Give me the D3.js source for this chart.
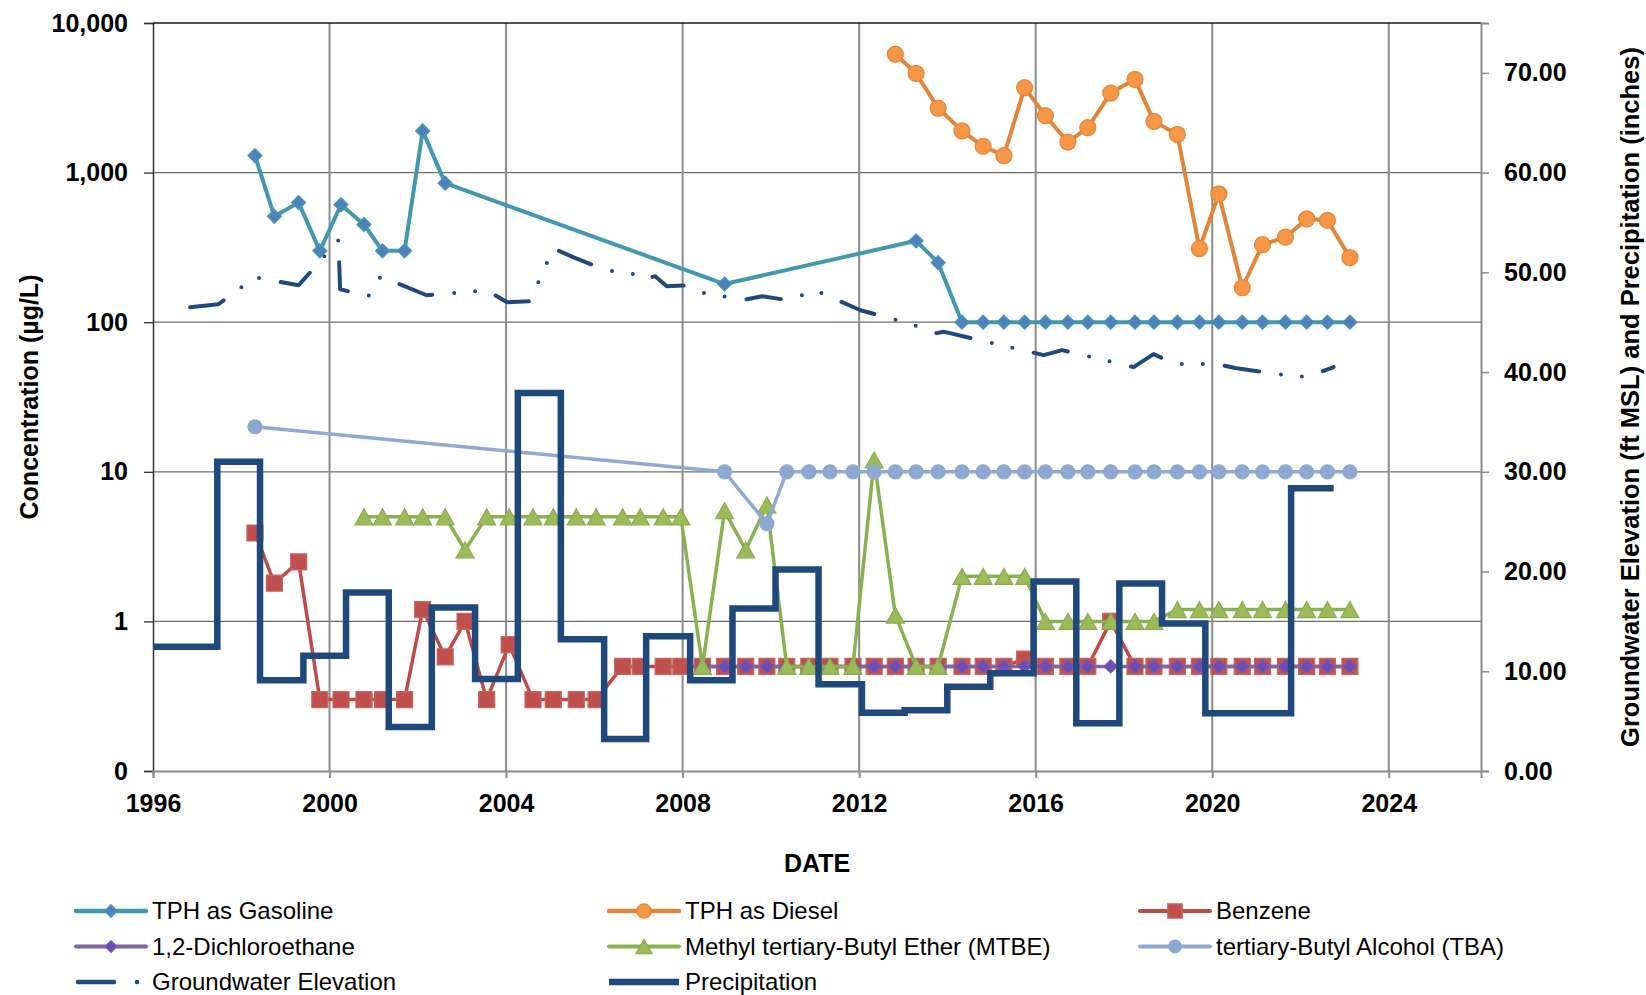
<!DOCTYPE html>
<html>
<head>
<meta charset="utf-8">
<script src="https://cdn.jsdelivr.net/npm/d3@7"></script>
<style>
  body { margin: 0; background: #fff; }
  svg { display: block; font-family: Arial, "Liberation Sans", sans-serif; }
</style>
</head>
<body>
<div id="chart"></div>
<script>
// sampling dates (decimal years) shared by the concentration series
const _ = null;
const sampleYears = [1998.31, 1998.75, 1999.30, 1999.78, 2000.26, 2000.78, 2001.20, 2001.70, 2002.11, 2002.62,
  2003.07, 2003.56, 2004.07, 2004.61, 2005.07, 2005.59, 2006.04, 2006.64, 2007.04, 2007.56, 2007.96,
  2008.45, 2008.95, 2009.43, 2009.91, 2010.36, 2010.86, 2011.34, 2011.86, 2012.34, 2012.82, 2013.29, 2013.79,
  2014.33, 2014.81, 2015.28, 2015.75, 2016.22, 2016.73, 2017.18, 2017.70, 2018.25, 2018.68, 2019.21, 2019.71,
  2020.15, 2020.68, 2021.14, 2021.66, 2022.14, 2022.61, 2023.12];

const tphGasoline = [1300, 510, 630, 300, 610, 450, 300, 300, 1900, 850,
  _, _, _, _, _, _, _, _, _, _, _, _, 180, _, _, _, _, _, _, _, _, 350, 250,
  100, 100, 100, 100, 100, 100, 100, 100, 100, 100, 100, 100, 100, 100, 100, 100, 100, 100, 100];
const tphDiesel = [_, _, _, _, _, _, _, _, _, _, _, _, _, _, _, _, _, _, _, _, _, _, _, _, _, _, _, _, _, _,
  6200, 4600, 2700, 1900, 1500, 1300, 3700, 2400, 1600, 2000, 3400, 4200, 2200, 1800, 310, 720, 170, 330, 370, 490, 480, 270];
const benzene = [3.9, 1.8, 2.5, 0.3, 0.3, 0.3, 0.3, 0.3, 1.2, 0.58, 1.0, 0.3, 0.7, 0.3, 0.3, 0.3, 0.3,
  0.5, 0.5, 0.5, 0.5, 0.5, 0.5, 0.5, 0.5, 0.5, 0.5, 0.5, 0.5, 0.5, 0.5, 0.5, 0.5, 0.5, 0.5, 0.5,
  0.56, 0.5, 0.5, 0.5, 1.0, 0.5, 0.5, 0.5, 0.5, 0.5, 0.5, 0.5, 0.5, 0.5, 0.5, 0.5];
const dichloroethane = [_, _, _, _, _, _, _, _, _, _, _, _, _, _, _, _, _, _, _, _, _,
  0.5, 0.5, 0.5, 0.5, 0.5, 0.5, 0.5, 0.5, 0.5, 0.5, 0.5, 0.5, 0.5, 0.5, 0.5, 0.5,
  0.5, 0.5, 0.5, 0.5, 0.5, 0.5, 0.5, 0.5, 0.5, 0.5, 0.5, 0.5, 0.5, 0.5, 0.5];
const mtbe = [_, _, _, _, _, 5, 5, 5, 5, 5, 3, 5, 5, 5, 5, 5, 5, 5, 5, 5, 5,
  0.5, 5.5, 3, 6, 0.5, 0.5, 0.5, 0.5, 12, 1.1, 0.5, 0.5, 2, 2, 2, 2, 1, 1, 1, 1, 1, 1,
  1.2, 1.2, 1.2, 1.2, 1.2, 1.2, 1.2, 1.2, 1.2];
const tba = [20, _, _, _, _, _, _, _, _, _, _, _, _, _, _, _, _, _, _, _, _, _, 10, _, 4.5,
  10, 10, 10, 10, 10, 10, 10, 10, 10, 10, 10, 10, 10, 10, 10, 10, 10, 10, 10, 10, 10, 10, 10, 10, 10, 10, 10];

// groundwater elevation (ft MSL), right axis
const gwYears = [1996.84, 1997.48, 1998.31, 1999.30, 2000.20, 2000.24, 2000.88, 2001.16, 2002.20, 2003.56,
  2004.02, 2004.54, 2005.07, 2005.53, 2006.28, 2006.93, 2007.04, 2007.38, 2007.64, 2008.10, 2008.55,
  2009.46, 2009.80, 2010.40, 2011.00, 2012.03, 2013.12, 2013.76, 2013.91, 2016.18, 2016.60, 2018.22,
  2018.67, 2019.17, 2020.11, 2020.52, 2021.64, 2022.15, 2022.75];
const gwElev = [46.5, 46.8, 49.5, 48.7, 53.2, 48.3, 47.6, 49.6, 47.7, 48.2,
  47.0, 47.1, 52.4, 51.5, 50.2, 49.8, 49.3, 49.6, 48.6, 48.7, 47.8,
  47.3, 47.6, 47.2, 48.2, 46.2, 44.9, 43.9, 44.05, 41.7, 42.2, 40.5,
  41.8, 40.8, 40.8, 40.4, 39.7, 39.5, 40.5];

// annual precipitation (inches), right axis, drawn as steps
const precipYears = [1996.0, 1997.457, 1998.425, 1999.407, 2000.374, 2001.342, 2002.317, 2003.298, 2004.266,
  2005.241, 2006.222, 2007.174, 2008.171, 2009.130, 2010.105, 2011.080, 2012.063, 2013.029, 2013.997,
  2014.971, 2015.952, 2016.920, 2017.895, 2018.863, 2019.844, 2020.81, 2021.787, 2022.752];
const precipInches = [12.45, 31.0, 9.1, 11.56, 17.9, 4.41, 16.4, 9.22, 37.9,
  13.2, 3.2, 13.5, 9.1, 16.3, 20.2, 8.7, 5.85, 6.1, 8.45,
  9.8, 19.0, 4.8, 18.8, 14.8, 5.8, 5.8, 28.35, 28.35];

const xTicks = [1996, 2000, 2004, 2008, 2012, 2016, 2020, 2024];
const leftTicks = [0.1, 1, 10, 100, 1000, 10000];
const leftTickLabels = ["0", "1", "10", "100", "1,000", "10,000"];
const rightTicks = [0, 10, 20, 30, 40, 50, 60, 70];

const W = 1646, H = 995;
const L = 153, R = 1481, T = 23, B = 771;

const x = d3.scaleLinear().domain([1996, 2026.09]).range([L, R]);
const y = d3.scaleLog().domain([0.1, 10000]).range([B, T]);
const y2 = d3.scaleLinear().domain([0, 75]).range([B, T]);

const svg = d3.select("#chart").append("svg")
  .attr("width", W).attr("height", H);

svg.append("defs").append("clipPath").attr("id", "plot")
  .append("rect").attr("x", L).attr("y", T).attr("width", R - L).attr("height", B - T);

// gridlines
svg.append("g").selectAll("line")
  .data(leftTicks.slice(1, -1))
  .enter().append("line")
  .attr("x1", L).attr("x2", R)
  .attr("y1", d => y(d)).attr("y2", d => y(d))
  .attr("stroke", "#6e6e6e").attr("stroke-width", 1.3);
svg.append("g").selectAll("line")
  .data(xTicks.slice(1))
  .enter().append("line")
  .attr("x1", d => x(d)).attr("x2", d => x(d))
  .attr("y1", T).attr("y2", B)
  .attr("stroke", "#8c8c8c").attr("stroke-width", 2);

// plot border
svg.append("line").attr("x1", L).attr("x2", R).attr("y1", T).attr("y2", T)
  .attr("stroke", "#1a1a1a").attr("stroke-width", 1.5);

// axes
const axL = svg.append("g").attr("transform", `translate(${L},0)`)
  .call(d3.axisLeft(y).tickValues(leftTicks).tickFormat((d, i) => leftTickLabels[i]).tickSize(9).tickPadding(16));
const axR = svg.append("g").attr("transform", `translate(${R},0)`)
  .call(d3.axisRight(y2).tickValues(rightTicks).tickFormat(d3.format(".2f")).tickSize(8).tickPadding(15));
const axB = svg.append("g").attr("transform", `translate(0,${B})`)
  .call(d3.axisBottom(x).tickValues(xTicks).tickFormat(d3.format("d")).tickSize(7).tickPadding(16));

[axL, axR, axB].forEach(a => {
  a.selectAll("text").attr("font-size", 25).attr("font-weight", "bold").attr("fill", "#000")
    .attr("font-family", "Arial, 'Liberation Sans', sans-serif");
});
axL.select(".domain").attr("stroke", "#303030").attr("stroke-width", 1.5);
axL.selectAll(".tick line").attr("stroke", "#303030").attr("stroke-width", 1.3);
axR.select(".domain").attr("stroke", "#8c8c8c").attr("stroke-width", 2);
axR.selectAll(".tick line").attr("stroke", "#8c8c8c").attr("stroke-width", 1.5);
axB.select(".domain").attr("stroke", "#8c8c8c").attr("stroke-width", 2);
axB.selectAll(".tick line").attr("stroke", "#8c8c8c").attr("stroke-width", 2);

// axis titles
svg.append("text").attr("transform", `translate(29,${(T + B) / 2}) rotate(-90)`)
  .attr("text-anchor", "middle").attr("dy", "0.35em")
  .attr("font-size", 25).attr("font-weight", "bold").text("Concentration (µg/L)");
svg.append("text").attr("transform", `translate(1630,${(T + B) / 2}) rotate(-90)`)
  .attr("text-anchor", "middle").attr("dy", "0.35em")
  .attr("font-size", 25.5).attr("font-weight", "bold")
  .text("Groundwater Elevation (ft MSL) and Precipitation (inches)");
svg.append("text").attr("x", (L + R) / 2).attr("y", 863).attr("dy", "0.35em")
  .attr("text-anchor", "middle").attr("font-size", 25).attr("font-weight", "bold").text("DATE");

// marker shapes
const shapes = {
  diamond: r => `M0,${-r}L${r},0L0,${r}L${-r},0Z`,
  square: r => `M${-r},${-r}H${r}V${r}H${-r}Z`,
  triangle: r => `M0,${-r}L${r * 1.12},${r}L${-r * 1.12},${r}Z`,
  circle: r => `M${r},0A${r},${r} 0 1,1 ${-r},0A${r},${r} 0 1,1 ${r},0Z`
};

const series = [
  { name: "TPH as Gasoline", values: tphGasoline, line: "#4198AF", fill: "#4F81BD", stroke: "#4198AF", shape: "diamond", r: 7, w: 4 },
  { name: "TPH as Diesel", values: tphDiesel, line: "#E2843A", fill: "#F79646", stroke: "#E38634", shape: "circle", r: 8, w: 4 },
  { name: "Benzene", values: benzene, line: "#BE4B48", fill: "#C0504D", stroke: "#C96461", shape: "square", r: 8, w: 3.5 },
  { name: "1,2-Dichloroethane", values: dichloroethane, line: "#7F64A2", fill: "#6B4CB8", stroke: "#7656B0", shape: "diamond", r: 6.5, w: 3.5 },
  { name: "Methyl tertiary-Butyl Ether (MTBE)", values: mtbe, line: "#8AB150", fill: "#9BBB59", stroke: "#8AAD4E", shape: "triangle", r: 8, w: 3.5 },
  { name: "tertiary-Butyl Alcohol (TBA)", values: tba, line: "#8EAAD2", fill: "#8EA9D1", stroke: "#8EA9D1", shape: "circle", r: 7, w: 3.5 }
];

const plot = svg.append("g").attr("clip-path", "url(#plot)");
const conc = d3.line().x(d => x(d[0])).y(d => y(d[1]));

series.forEach(s => {
  const pts = sampleYears.map((yr, i) => [yr, s.values[i]]).filter(d => d[1] !== null);
  const g = plot.append("g");
  g.append("path").datum(pts).attr("d", conc)
    .attr("fill", "none").attr("stroke", s.line).attr("stroke-width", s.w).attr("stroke-linejoin", "round");
  g.selectAll("path.m").data(pts).enter().append("path").attr("class", "m")
    .attr("d", shapes[s.shape](s.r))
    .attr("transform", d => `translate(${x(d[0])},${y(d[1])})`)
    .attr("fill", s.fill).attr("stroke", s.stroke).attr("stroke-width", 1.2);
});

// groundwater elevation
const gwPts = gwYears.map((yr, i) => [yr, gwElev[i]]);
plot.append("path").datum(gwPts)
  .attr("d", d3.line().x(d => x(d[0])).y(d => y2(d[1])))
  .attr("fill", "none").attr("stroke", "#1F497D").attr("stroke-width", 4)
  .attr("stroke-linecap", "round").attr("stroke-linejoin", "round")
  .attr("stroke-dasharray", "35,22,0,21,0,22");

// precipitation
const prPts = precipYears.map((yr, i) => [yr, precipInches[i]]);
plot.append("path").datum(prPts)
  .attr("d", d3.line().curve(d3.curveStepAfter).x(d => x(d[0])).y(d => y2(d[1])))
  .attr("fill", "none").attr("stroke", "#1F497D").attr("stroke-width", 6.5)
  .attr("stroke-linejoin", "miter");

// legend
const colX = [76, 609, 1140];
const rowY = [911, 946.5, 982];
const legendItems = series.map((s, i) => ({ s, col: i % 3, row: Math.floor(i / 3) }));
const lg = svg.append("g");
legendItems.forEach(({ s, col, row }) => {
  const x0 = colX[col], yy = rowY[row];
  lg.append("line").attr("x1", x0).attr("x2", x0 + 70).attr("y1", yy).attr("y2", yy)
    .attr("stroke", s.line).attr("stroke-width", s.w + 0.5).attr("stroke-linecap", "round");
  lg.append("path").attr("d", shapes[s.shape](s.r * 0.9))
    .attr("transform", `translate(${x0 + 35},${yy})`)
    .attr("fill", s.fill).attr("stroke", s.stroke).attr("stroke-width", 1.2);
  lg.append("text").attr("x", x0 + 76).attr("y", yy).attr("dy", "0.35em")
    .attr("font-size", 24).text(s.name);
});
// groundwater legend
lg.append("line").attr("x1", colX[0] + 2).attr("x2", colX[0] + 70).attr("y1", rowY[2]).attr("y2", rowY[2])
  .attr("stroke", "#1F497D").attr("stroke-width", 4.5).attr("stroke-linecap", "round")
  .attr("stroke-dasharray", "36,23,0,100");
lg.append("text").attr("x", colX[0] + 76).attr("y", rowY[2]).attr("dy", "0.35em")
  .attr("font-size", 24).text("Groundwater Elevation");
// precipitation legend
lg.append("line").attr("x1", colX[1]).attr("x2", colX[1] + 70).attr("y1", rowY[2]).attr("y2", rowY[2])
  .attr("stroke", "#1F497D").attr("stroke-width", 6.5);
lg.append("text").attr("x", colX[1] + 76).attr("y", rowY[2]).attr("dy", "0.35em")
  .attr("font-size", 24).text("Precipitation");
</script>
</body>
</html>
